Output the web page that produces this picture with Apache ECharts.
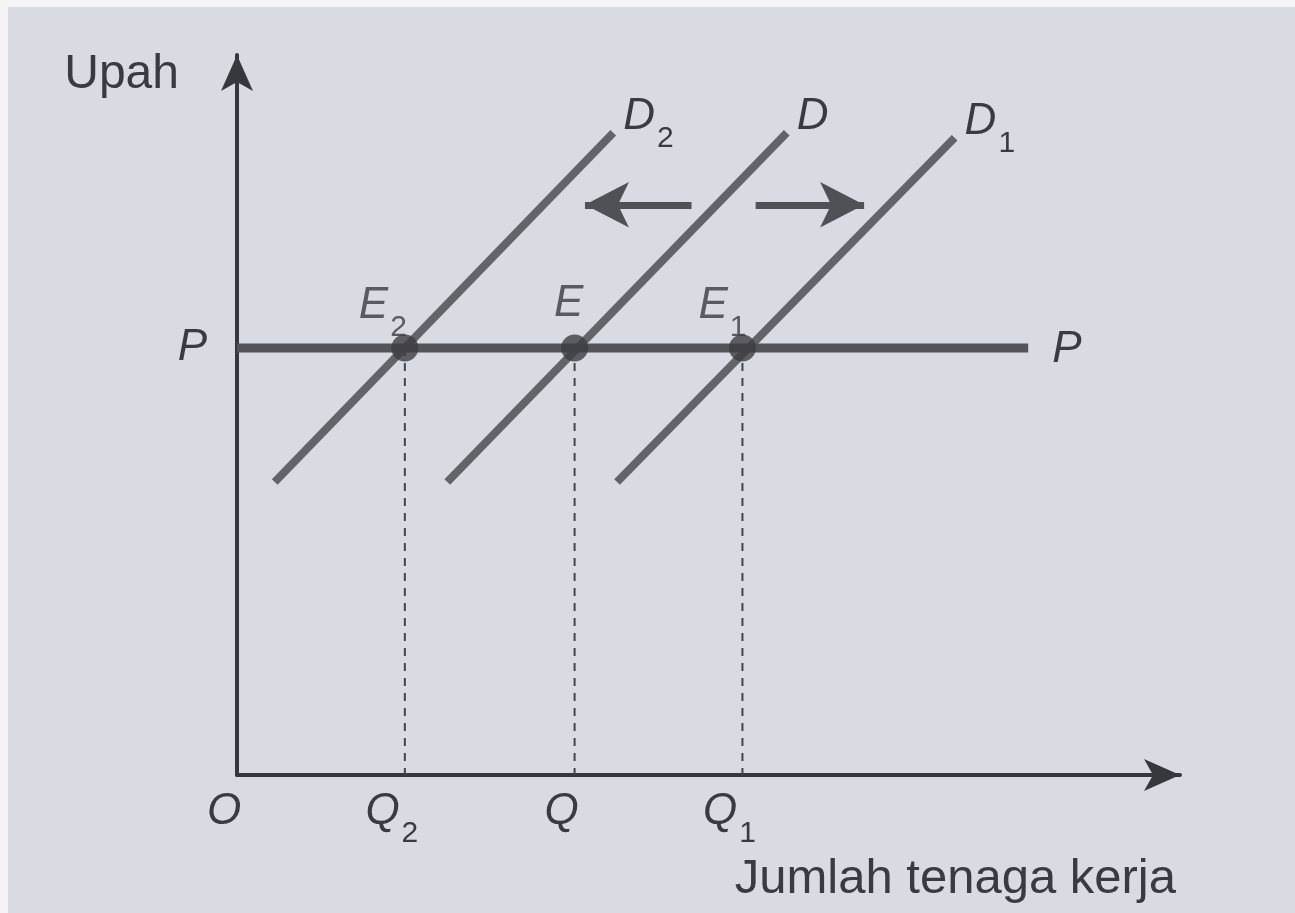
<!DOCTYPE html>
<html>
<head>
<meta charset="utf-8">
<script src="https://cdn.jsdelivr.net/npm/echarts@6/dist/echarts.min.js"></script>
<style>
html,body{margin:0;padding:0;background:#ffffff;}
#chart{width:1295px;height:913px;background:#d9dae2;box-shadow:inset 8px 7px 0 #f4f4f7;}
</style>
</head>
<body>
<div id="chart"></div>
<script>
// ---- data (arbitrary units 0..100) ----
const qTickValues = [0, 17.8, 35.8, 53.6];
const qTickNames = ['O', 'Q2', 'Q', 'Q1'];
const wageP = 59.3;
const curveNames = ['D2', 'D', 'D1'];
const curveD2 = [[4.0, 40.7], [39.9, 89.2]];
const curveD = [[22.3, 40.7], [58.3, 89.2]];
const curveD1 = [[40.3, 40.7], [76.1, 88.5]];
const supplyLineX = [0, 83.9];
const equilibriumNames = ['E2', 'E', 'E1'];
const equilibriumQ = [17.8, 35.8, 53.6];
const shiftArrowLeft = [[48.2, 79.2], [36.9, 79.2]];
const shiftArrowRight = [[55.0, 79.2], [66.5, 79.2]];

// ---- styling ----
const FONT = 'Liberation Sans';
const TXT = '#3a3a42';
const LINE = '#636369';
const AXIS = '#37373e';

function sub(name) {
  const m = name.charAt(0), s = name.slice(1);
  return s ? '{m|' + m + '}{s|' + s + '}' : '{m|' + m + '}';
}
const richLetters = {
  m: { fontFamily: FONT, fontStyle: 'italic', fontSize: 44, color: TXT, lineHeight: 44 },
  s: { fontFamily: FONT, fontStyle: 'normal', fontSize: 30, color: TXT, lineHeight: 30, padding: [44, 0, 0, 2] }
};

const curves = [curveD2, curveD, curveD1];
const series = [];

curves.forEach((c, i) => {
  series.push({
    type: 'line', name: curveNames[i], data: c, symbol: 'none', silent: true,
    lineStyle: { color: LINE, width: 8, cap: 'butt' },
    endLabel: { show: true, formatter: () => sub(curveNames[i]), rich: richLetters, offset: [2, -16] },
    z: 3
  });
});

series.push({
  type: 'line', name: 'P', data: supplyLineX.map(x => [x, wageP]), symbol: 'none', silent: true,
  lineStyle: { color: '#535359', width: 9, cap: 'butt' },
  endLabel: { show: true, formatter: '{m|P}', rich: richLetters, offset: [16, 2] },
  z: 4
});

equilibriumQ.forEach((q) => {
  series.push({
    type: 'line', data: [[q, wageP], [q, 0]], symbol: 'none', silent: true,
    lineStyle: { color: '#45454c', width: 2, type: [8, 7] }, z: 2
  });
});

const eqOffsets = [[-22, -3], [-6, -5], [-20, -3]];
series.push({
  type: 'scatter', silent: true, symbolSize: 27,
  itemStyle: { color: '#3c3c42' },
  data: equilibriumQ.map((q, i) => ({
    value: [q, wageP],
    label: { show: true, position: 'top', distance: 4, offset: eqOffsets[i],
      formatter: sub(equilibriumNames[i]), rich: richLetters }
  })),
  z: 5
});

series.push({
  type: 'line', data: [], silent: true,
  markLine: {
    silent: true, symbol: ['none', 'arrow'], symbolSize: [34, 44],
    label: { show: false },
    lineStyle: { color: '#505057', width: 7, type: 'solid' },
    data: [
      [{ coord: shiftArrowLeft[0] }, { coord: shiftArrowLeft[1] }],
      [{ coord: shiftArrowRight[0] }, { coord: shiftArrowRight[1] }]
    ]
  }
});

const option = {
  backgroundColor: 'transparent',
  animation: false,
  grid: { left: 237, top: 55, right: 115, bottom: 138, containLabel: false },
  xAxis: {
    type: 'value', min: 0, max: 100,
    name: 'Jumlah tenaga kerja', nameLocation: 'end', nameGap: 0,
    nameTextStyle: { fontFamily: FONT, fontSize: 49, color: TXT, align: 'right', verticalAlign: 'top', padding: [80, 4, 0, 0] },
    axisLine: { show: true, symbol: ['none', 'arrow'], symbolSize: [24, 36], lineStyle: { color: AXIS, width: 4 } },
    axisTick: { show: false },
    splitLine: { show: false },
    axisLabel: {
      show: true, margin: 15, customValues: qTickValues,
      formatter: (v) => sub(qTickNames[qTickValues.indexOf(v)]),
      rich: richLetters, padding: [0, 26, 0, 0]
    }
  },
  yAxis: {
    type: 'value', min: 0, max: 100,
    name: 'Upah', nameLocation: 'end', nameGap: -44,
    nameTextStyle: { fontFamily: FONT, fontSize: 48, color: TXT, align: 'right', verticalAlign: 'bottom', padding: [0, 58, 0, 0] },
    axisLine: { show: true, symbol: ['none', 'arrow'], symbolSize: [24, 36], lineStyle: { color: AXIS, width: 4 } },
    axisTick: { show: false },
    splitLine: { show: false },
    axisLabel: {
      show: true, margin: 30, customValues: [wageP],
      formatter: () => '{m|P}', rich: richLetters
    }
  },
  series: series
};

const chart = echarts.init(document.getElementById('chart'), null, { renderer: 'canvas' });
chart.setOption(option);
</script>
</body>
</html>
